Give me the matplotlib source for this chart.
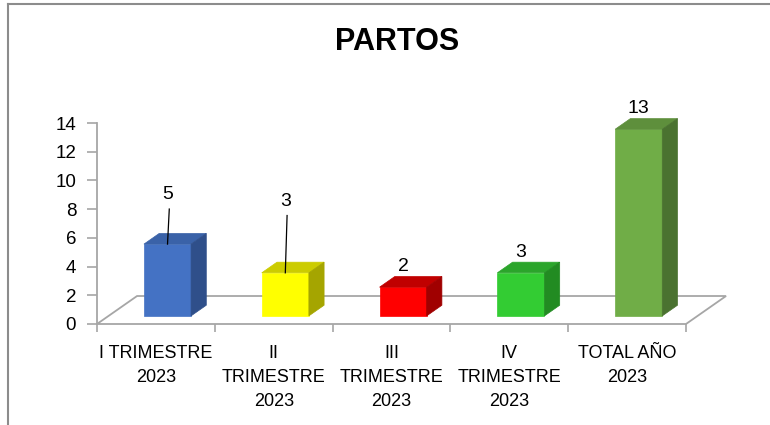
import matplotlib.pyplot as plt
from matplotlib.patches import Polygon
from matplotlib.lines import Line2D

categories = ['I TRIMESTRE\n2023', 'II\nTRIMESTRE\n2023', 'III\nTRIMESTRE\n2023',
              'IV\nTRIMESTRE\n2023', 'TOTAL AÑO\n2023']
partos = [5, 3, 2, 3, 13]
yticks = [0, 2, 4, 6, 8, 10, 12, 14]

front_colors = ['#4472C4', '#FFFF00', '#FF0000', '#33CC33', '#70AD47']
top_colors = ['#3A62A8', '#CCCC00', '#C00000', '#2BA52B', '#5E8F3C']
side_colors = ['#2F4F8A', '#A5A500', '#A00000', '#228B22', '#4A7230']

# the first two labels were dragged up by hand in the original (extra lift, value units)
label_lift = [2.0, 3.55, 0, 0, 0]

plt.rcParams['font.family'] = 'Liberation Sans'

# pseudo-3D geometry (category units / value units)
ddx, ddy = 0.34, 1.95      # floor depth
f0, f1 = 0.29, 0.67        # bar front / back as fraction of depth
w = 0.40                   # bar width
grid_col = '#A6A6A6'

fig = plt.figure(figsize=(7.7, 4.25), dpi=100)
ax = fig.add_axes([97 / 770, 101 / 425, 589 / 770, 201 / 425])
ax.set_xlim(-0.5, 4.5)
ax.set_ylim(0, 14)

n = len(partos)
floor = Polygon([(-0.5, 0), (n - 0.5, 0), (n - 0.5 + ddx, ddy), (-0.5 + ddx, ddy)],
                closed=True, facecolor='white', edgecolor=grid_col, lw=1.3,
                clip_on=False, zorder=1)
ax.add_patch(floor)

ox, oy = (f1 - f0) * ddx, (f1 - f0) * ddy
for i, v in enumerate(partos):
    x0 = i - w / 2 + f0 * ddx
    y0 = f0 * ddy
    x1, y1 = x0 + w, y0 + v
    faces = [
        ([(x0, y0), (x1, y0), (x1, y1), (x0, y1)], front_colors[i]),
        ([(x0, y1), (x1, y1), (x1 + ox, y1 + oy), (x0 + ox, y1 + oy)], top_colors[i]),
        ([(x1, y0), (x1 + ox, y0 + oy), (x1 + ox, y1 + oy), (x1, y1)], side_colors[i]),
    ]
    for pts, c in faces:
        ax.add_patch(Polygon(pts, closed=True, facecolor=c, edgecolor=c, lw=0.5,
                             clip_on=False, zorder=3))
    xc = (x0 + x1) / 2
    ly = y1 + oy + 0.7 + label_lift[i]
    ax.text(xc, ly, str(v), ha='center', va='center', fontsize=14,
            color='black', zorder=5, clip_on=False)
    if label_lift[i] > 0:
        ax.plot([xc + 0.015, xc], [ly - 1.0, y1], color='black', lw=0.9,
                zorder=4, clip_on=False)

for s in ['top', 'right', 'bottom']:
    ax.spines[s].set_visible(False)
ax.spines['left'].set_color(grid_col)
ax.spines['left'].set_linewidth(1.3)
ax.spines['left'].set_zorder(2)

ax.set_yticks(yticks)
ax.tick_params(axis='y', length=7, width=1.2, color=grid_col, pad=8,
               labelsize=13.5, labelcolor='black')

ax.set_xticks([i - 0.5 for i in range(n + 1)])
ax.set_xticklabels([''] * (n + 1))
ax.set_xticks(range(n), minor=True)
ax.set_xticklabels(categories, minor=True)
ax.tick_params(axis='x', which='major', length=6, width=1.2, color=grid_col)
ax.tick_params(axis='x', which='minor', length=0, pad=15, labelsize=13,
               labelcolor='black')
for t in ax.get_xticklabels(minor=True):
    t.set_linespacing(1.55)

fig.text(397 / 770, 1 - 42 / 425, 'PARTOS', ha='center', va='center',
         fontsize=22, fontweight='bold')

# outer chart-area border (only left and top visible in the crop)
fig.add_artist(Line2D([8 / 770, 8 / 770], [0, 1 - 4 / 425], transform=fig.transFigure,
                      color='#8C8C8C', lw=1.5))
fig.add_artist(Line2D([8 / 770, 1], [1 - 4 / 425, 1 - 4 / 425], transform=fig.transFigure,
                      color='#8C8C8C', lw=1.5))

fig.savefig('out.png', dpi=100)
